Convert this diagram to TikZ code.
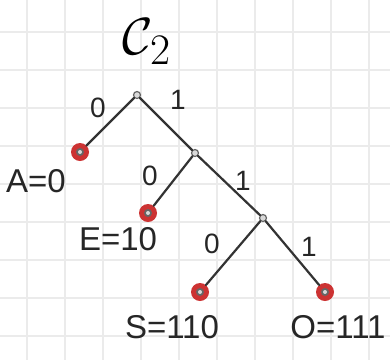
\documentclass[tikz,border=0pt]{standalone}
\usepackage{fontspec}
\setmainfont{Liberation Sans}
\begin{document}
\begin{tikzpicture}[x=1pt,y=-1pt,
  inner/.style={circle,draw=black!60,fill=black!15,line width=1.2pt,inner sep=0pt,minimum size=7pt},
  leaf/.style={circle,fill=red!75!black!80,inner sep=0pt,minimum size=18pt,
     path picture={\fill[black!60] (path picture bounding box.center) circle (4pt);
                   \fill[black!15] (path picture bounding box.center) circle (2pt);}},
  edge/.style={draw=black!80,line width=2.2pt,line cap=round},
  elab/.style={font=\fontsize{28}{30}\selectfont,text=black!85},
  llab/.style={font=\fontsize{33}{35}\selectfont,text=black!85}]
\useasboundingbox (0,0) rectangle (390,360);
\fill[white] (0,0) rectangle (390,360);
\foreach \x in {27,65,103,141,179,217,255,293,331,369}
  \draw[black!8,line width=1.2pt] (\x,0) -- (\x,360);
\foreach \y in {32,70,108,146,184,222,260,298,336}
  \draw[black!8,line width=1.2pt] (0,\y) -- (390,\y);
\node[font=\Huge,scale=2.1] (title) at (147,42) {$\mathcal{C}_2$};
\node[inner] (r) at (137,95) {};
\node[inner] (n1) at (195,153) {};
\node[inner] (n2) at (263,218) {};
\node[leaf] (A) at (80,152) {};
\node[leaf] (E) at (148,213) {};
\node[leaf] (S) at (200,292) {};
\node[leaf] (O) at (325,292) {};
\draw[edge] (r) -- (A);
\draw[edge] (r) -- (n1);
\draw[edge] (n1) -- (E);
\draw[edge] (n1) -- (n2);
\draw[edge] (n2) -- (S);
\draw[edge] (n2) -- (O);
\node[elab] (l0a) at (98,108) {0};
\node[elab] (l1a) at (178,100) {1};
\node[elab] (l0b) at (150,176) {0};
\node[elab] (l1b) at (243,181) {1};
\node[elab] (l0c) at (212,244) {0};
\node[elab] (l1c) at (309,247) {1};
\node[llab] (tA) at (36,181) {A=0};
\node[llab] (tE) at (118,239) {E=10};
\node[llab] (tS) at (172,327) {S=110};
\node[llab] (tO) at (338,327) {O=111};
\end{tikzpicture}
\end{document}
